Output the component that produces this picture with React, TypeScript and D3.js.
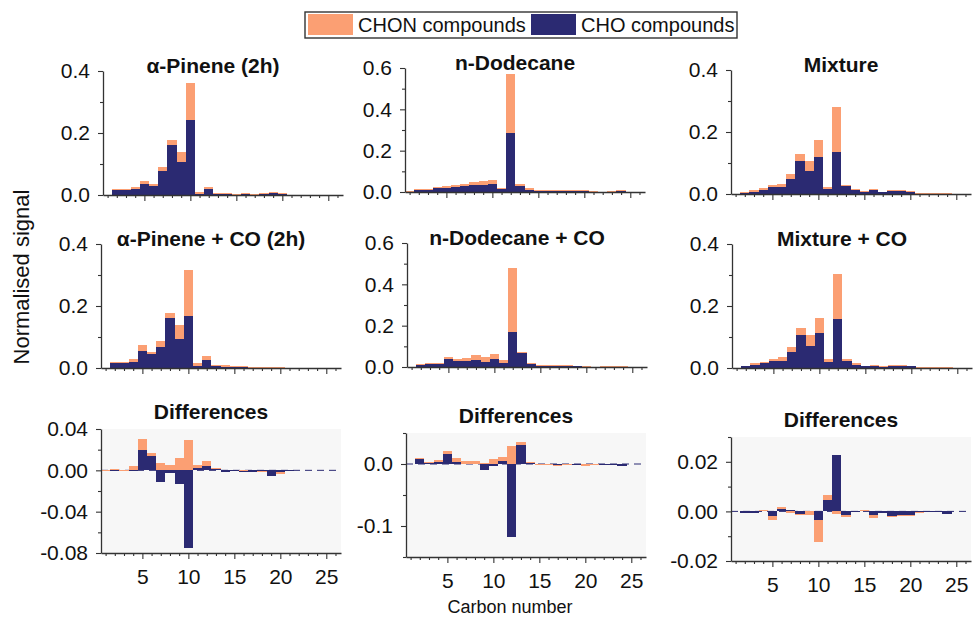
import React, { useEffect, useRef } from 'react';
import * as d3 from 'd3';

// carbon numbers on the x axis
const carbon = [1, 2, 3, 4, 5, 6, 7, 8, 9, 10, 11, 12, 13, 14, 15, 16, 17, 18, 19, 20, 21, 22, 23, 24, 25, 26];
const xMajorTicks = [5, 10, 15, 20, 25];

// normalised signal, CHO part and CHON part (stacked on top)
const pineneCHO = [0, 0.016, 0.017, 0.02, 0.034, 0.03, 0.077, 0.161, 0.105, 0.242, 0.002, 0.019, 0.003, 0.003, 0.002, 0.002, 0.002, 0.003, 0.007, 0.003, 0, 0, 0, 0, 0, 0];
const pineneCHON = [0, 0.003, 0.003, 0.006, 0.01, 0.004, 0.013, 0.016, 0.035, 0.118, 0.008, 0.008, 0.003, 0.004, 0.002, 0.003, 0.002, 0.002, 0.002, 0.002, 0, 0, 0, 0, 0, 0];

const dodecaneCHO = [0.002, 0.011, 0.011, 0.018, 0.021, 0.026, 0.031, 0.034, 0.034, 0.037, 0.013, 0.285, 0.031, 0.011, 0.003, 0.005, 0.004, 0.004, 0.004, 0.004, 0.001, 0.001, 0.002, 0.008, 0.001, 0];
const dodecaneCHON = [0.003, 0.005, 0.005, 0.006, 0.01, 0.009, 0.009, 0.014, 0.018, 0.019, 0.006, 0.286, 0.009, 0.007, 0.005, 0.006, 0.006, 0.006, 0.005, 0.005, 0.002, 0.001, 0.001, 0.001, 0, 0];

const mixtureCHO = [0, 0.002, 0.008, 0.014, 0.021, 0.024, 0.05, 0.108, 0.073, 0.118, 0.016, 0.135, 0.028, 0.012, 0.005, 0.013, 0.005, 0.009, 0.009, 0.007, 0.002, 0.002, 0.001, 0.003, 0.001, 0];
const mixtureCHON = [0, 0.004, 0.005, 0.005, 0.008, 0.008, 0.016, 0.021, 0.033, 0.057, 0.008, 0.145, 0.002, 0.003, 0.004, 0.002, 0.003, 0.003, 0.003, 0.003, 0.001, 0.001, 0.001, 0.001, 0, 0];

const pineneCoCHO = [0, 0.017, 0.018, 0.019, 0.056, 0.045, 0.069, 0.16, 0.093, 0.167, 0.007, 0.025, 0.005, 0.004, 0.002, 0.002, 0.002, 0.002, 0.002, 0.001, 0, 0, 0, 0, 0, 0];
const pineneCoCHON = [0, 0.003, 0.002, 0.009, 0.019, 0.008, 0.018, 0.018, 0.047, 0.15, 0.009, 0.013, 0.006, 0.005, 0.003, 0.003, 0.002, 0.002, 0.002, 0.002, 0, 0, 0, 0, 0, 0];

const dodecaneCoCHO = [0, 0.011, 0.013, 0.014, 0.037, 0.027, 0.027, 0.034, 0.026, 0.037, 0.021, 0.169, 0.069, 0.016, 0.005, 0.006, 0.005, 0.006, 0.004, 0.003, 0.001, 0.002, 0.002, 0.004, 0.001, 0];
const dodecaneCoCHON = [0, 0.003, 0.005, 0.007, 0.011, 0.013, 0.016, 0.022, 0.022, 0.025, 0.011, 0.311, 0.006, 0.005, 0.003, 0.004, 0.003, 0.002, 0.003, 0.003, 0.001, 0.001, 0.001, 0.001, 0, 0];

const mixtureCoCHO = [0, 0.005, 0.011, 0.015, 0.021, 0.024, 0.051, 0.108, 0.072, 0.114, 0.02, 0.158, 0.021, 0.011, 0.005, 0.008, 0.005, 0.007, 0.007, 0.005, 0.002, 0.001, 0.002, 0.002, 0, 0];
const mixtureCoCHON = [0, 0.003, 0.006, 0.005, 0.007, 0.01, 0.016, 0.02, 0.033, 0.048, 0.01, 0.144, 0.008, 0.005, 0.003, 0.003, 0.002, 0.003, 0.003, 0.003, 0.001, 0.001, 0.001, 0.001, 0, 0];

// differences (+CO minus no CO)
const pineneDiffCHO = [0, 0.0005, 0, 0.0005, 0.02, 0.014, -0.011, -0.003, -0.0135, -0.075, 0.0025, 0.004, 0.001, -0.002, -0.0005, -0.002, -0.0015, -0.001, -0.005, -0.002, -0.0005, 0, 0, 0, 0, 0];
const pineneDiffCHON = [0.0005, 0.0005, 0.0003, 0.0035, 0.01, 0.003, 0.007, 0.005, 0.012, 0.029, 0.0025, 0.005, 0.0015, 0, 0, 0.0005, 0, -0.001, 0, -0.002, 0, 0, 0, 0, 0, 0];

const dodecaneDiffCHO = [0, 0.0096, 0.0016, 0.004, 0.016, 0.004, 0, 0.0005, -0.0096, -0.004, 0.005, -0.118, 0.03, 0.002, -0.001, -0.0005, -0.002, -0.0005, -0.001, -0.0005, 0, -0.0005, -0.0005, -0.004, 0, 0];
const dodecaneDiffCHON = [0.0005, 0.0005, 0.001, 0.002, 0.005, 0.005, 0.005, 0.004, 0.0016, 0.008, 0.0065, 0.029, 0.0055, 0.0015, 0.0003, -0.0005, -0.001, -0.0015, -0.001, -0.0025, -0.0008, 0, 0, 0, 0, 0];

const mixtureDiffCHO = [0, -0.0005, -0.0005, 0, -0.002, 0.001, 0.0006, -0.001, 0, -0.0036, 0.0047, 0.0227, -0.0015, -0.0003, 0, -0.0016, -0.0005, -0.0018, -0.0014, -0.0013, -0.0003, -0.0002, -0.0003, -0.0009, 0, 0];
const mixtureDiffCHON = [0, 0, 0.0003, 0.0007, -0.0013, 0.0007, -0.0005, -0.0003, -0.0013, -0.0087, 0.002, -0.0012, -0.0008, 0, 0.0004, -0.0009, -0.0003, -0.0005, -0.0006, -0.0007, -0.0003, 0, 0, 0, 0, 0];

const NAVY = '#2b2a72';
const ORANGE = '#fb9f73';
const AXIS = '#333';
const FONT = '"Liberation Sans", Arial, Helvetica, sans-serif';

const W = 240;
const H = 124;

const panels = [
  { title: 'α-Pinene (2h)', cho: pineneCHO, chon: pineneCHON, domain: [0, 0.4], major: [0, 0.2, 0.4], minor: [0.1, 0.3], fmt: '.1f', left: 103, top: 71, row: 0 },
  { title: 'n-Dodecane', cho: dodecaneCHO, chon: dodecaneCHON, domain: [0, 0.6], major: [0, 0.2, 0.4, 0.6], minor: [0.1, 0.3, 0.5], fmt: '.1f', left: 405, top: 68, row: 0 },
  { title: 'Mixture', cho: mixtureCHO, chon: mixtureCHON, domain: [0, 0.4], major: [0, 0.2, 0.4], minor: [0.1, 0.3], fmt: '.1f', left: 731, top: 70, row: 0 },
  { title: 'α-Pinene + CO (2h)', cho: pineneCoCHO, chon: pineneCoCHON, domain: [0, 0.4], major: [0, 0.2, 0.4], minor: [0.1, 0.3], fmt: '.1f', left: 101, top: 244, row: 1 },
  { title: 'n-Dodecane + CO', cho: dodecaneCoCHO, chon: dodecaneCoCHON, domain: [0, 0.6], major: [0, 0.2, 0.4, 0.6], minor: [0.1, 0.3, 0.5], fmt: '.1f', left: 407, top: 243, row: 1 },
  { title: 'Mixture + CO', cho: mixtureCoCHO, chon: mixtureCoCHON, domain: [0, 0.4], major: [0, 0.2, 0.4], minor: [0.1, 0.3], fmt: '.1f', left: 732, top: 244, row: 1 },
  { title: 'Differences', cho: pineneDiffCHO, chon: pineneDiffCHON, domain: [-0.08, 0.04], major: [-0.08, -0.04, 0, 0.04], minor: [-0.06, -0.02, 0.02], fmt: '.2f', left: 101, top: 429, row: 2 },
  { title: 'Differences', cho: dodecaneDiffCHO, chon: dodecaneDiffCHON, domain: [-0.15, 0.05], major: [-0.1, 0], minor: [-0.15, -0.05, 0.05], fmt: '.1f', left: 406, top: 433, row: 2 },
  { title: 'Differences', cho: mixtureDiffCHO, chon: mixtureDiffCHON, domain: [-0.02, 0.03], major: [-0.02, 0, 0.02], minor: [-0.01, 0.01, 0.03], fmt: '.2f', left: 731, top: 437, row: 2 },
];

const App = () => {
  const svgRef = useRef<SVGSVGElement>(null);

  useEffect(() => {
    const svg = d3.select(svgRef.current);
    svg.selectAll('*').remove();

    panels.forEach((p) => {
      const diff = p.row === 2;
      const x = d3.scaleLinear().domain([0.5, 26.6]).range([p.left, p.left + W]);
      const y = d3.scaleLinear().domain(p.domain).range([p.top + H, p.top]);
      const g = svg.append('g');

      if (diff) {
        g.append('rect')
          .attr('x', p.left)
          .attr('y', p.top)
          .attr('width', W)
          .attr('height', H)
          .attr('fill', '#f7f7f7');
        g.append('line')
          .attr('x1', p.left)
          .attr('x2', p.left + W)
          .attr('y1', y(0))
          .attr('y2', y(0))
          .attr('stroke', NAVY)
          .attr('stroke-width', 1)
          .attr('stroke-dasharray', '7,5');
      }

      const rows = carbon.map((c, i) => ({ carbon: c, cho: p.cho[i], chon: p.chon[i] }));
      const series = d3.stack<any>()
        .keys(['cho', 'chon'])
        .offset(d3.stackOffsetDiverging)(rows);
      const colors = [NAVY, ORANGE];

      series.forEach((s, k) => {
        g.append('g')
          .selectAll('rect')
          .data(s.filter(d => d[1] !== d[0]))
          .join('rect')
          .attr('x', d => x(d.data.carbon - 0.5))
          .attr('width', d => x(d.data.carbon + 0.5) - x(d.data.carbon - 0.5))
          .attr('y', d => y(Math.max(d[0], d[1])))
          .attr('height', d => Math.max(0.8, Math.abs(y(d[0]) - y(d[1]))))
          .attr('fill', colors[k])
          .attr('shape-rendering', 'crispEdges');
      });

      const fmt = (d: any) => d3.format(p.fmt)(d).replace('−', '-');

      // y axis
      const yAx = g.append('g')
        .attr('transform', `translate(${p.left},0)`)
        .call(d3.axisLeft(y).tickValues(p.major).tickFormat(fmt).tickSize(5).tickSizeOuter(0).tickPadding(8));
      const yMin = g.append('g')
        .attr('transform', `translate(${p.left},0)`)
        .call(d3.axisLeft(y).tickValues(p.minor).tickFormat(() => '').tickSize(3).tickSizeOuter(0));
      yMin.select('.domain').remove();

      // x axis
      const xAx = g.append('g')
        .attr('transform', `translate(0,${p.top + H})`)
        .call(d3.axisBottom(x).tickValues(xMajorTicks)
          .tickFormat(diff ? d3.format('d') : () => '')
          .tickSize(6).tickSizeOuter(0).tickPadding(10));
      const xMin = g.append('g')
        .attr('transform', `translate(0,${p.top + H})`)
        .call(d3.axisBottom(x).tickValues(carbon.filter(c => c % 5 !== 0)).tickFormat(() => '').tickSize(3).tickSizeOuter(0));
      xMin.select('.domain').remove();

      [yAx, yMin, xAx, xMin].forEach(a => {
        a.selectAll('.domain').attr('stroke', AXIS).attr('stroke-width', 1.3);
        a.selectAll('.tick line').attr('stroke', AXIS).attr('stroke-width', 1.1);
        a.selectAll('text')
          .attr('fill', '#111')
          .style('font-family', FONT)
          .style('font-size', '21px');
      });

      g.append('text')
        .attr('x', p.left + 110)
        .attr('y', diff ? p.top - 10 : p.top + 2)
        .attr('text-anchor', 'middle')
        .attr('fill', '#111')
        .style('font-family', FONT)
        .style('font-size', '21px')
        .style('font-weight', 'bold')
        .text(p.title);
    });

    // axis titles
    svg.append('text')
      .attr('transform', 'translate(29,277) rotate(-90)')
      .attr('text-anchor', 'middle')
      .attr('fill', '#111')
      .style('font-family', FONT)
      .style('font-size', '22px')
      .text('Normalised signal');

    svg.append('text')
      .attr('x', 510)
      .attr('y', 613)
      .attr('text-anchor', 'middle')
      .attr('fill', '#111')
      .style('font-family', FONT)
      .style('font-size', '18px')
      .text('Carbon number');

    // legend
    const legend = svg.append('g');
    legend.append('rect')
      .attr('x', 305).attr('y', 12).attr('width', 432).attr('height', 26)
      .attr('fill', '#fff').attr('stroke', AXIS).attr('stroke-width', 1.4);
    const items = [
      { label: 'CHON compounds', color: ORANGE, x: 308 },
      { label: 'CHO compounds', color: NAVY, x: 531 },
    ];
    items.forEach(it => {
      legend.append('rect')
        .attr('x', it.x).attr('y', 14).attr('width', 45).attr('height', 21)
        .attr('fill', it.color);
      legend.append('text')
        .attr('x', it.x + 50).attr('y', 32)
        .attr('fill', '#111')
        .style('font-family', FONT)
        .style('font-size', '20px')
        .text(it.label);
    });
  }, []);

  return (
    <svg
      ref={svgRef}
      width={973}
      height={631}
      style={{ position: 'absolute', left: 0, top: 0, background: '#fff' }}
    />
  );
};

export default App;
